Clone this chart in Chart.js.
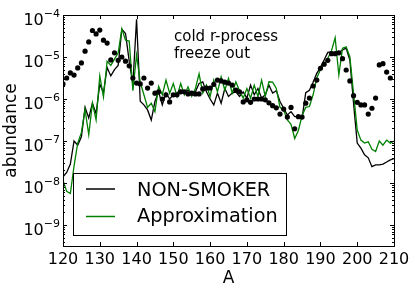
<!DOCTYPE html>
<html><head><meta charset="utf-8">
<script src="https://cdn.jsdelivr.net/npm/chart.js@4.4.0/dist/chart.umd.min.js"></script>
<style>html,body{margin:0;padding:0;background:#fff;}canvas{display:block;}</style>
</head><body>
<canvas id="c" width="415" height="296"></canvas>
<script>
// ---- data ----
const massNumbers = [120,121,122,123,124,125,126,127,128,129,130,131,132,133,134,135,136,137,138,139,
  140,141,142,143,144,145,146,147,148,149,150,151,152,153,154,155,156,157,158,159,
  160,161,162,163,164,165,166,167,168,169,170,171,172,173,174,175,176,177,178,179,
  180,181,182,183,184,185,186,187,188,189,190,191,192,193,194,195,196,197,198,199,
  200,201,202,203,204,205,206,207,208,209,210];

const nonSmoker = [1.41e-8,1.78e-8,2.82e-8,1.0e-7,7.94e-8,1.26e-7,6.31e-7,3.55e-7,7.94e-7,4.47e-7,
  2.24e-6,1.41e-6,5.62e-6,3.55e-6,5.01e-6,6.31e-6,4.57e-5,3.63e-5,7.94e-6,2.24e-6,
  7.94e-5,8.91e-7,7.24e-7,5.50e-7,3.16e-7,8.71e-7,1.48e-6,7.24e-7,1.38e-6,1.0e-6,
  1.26e-6,1.38e-6,1.62e-6,1.38e-6,1.62e-6,1.38e-6,1.48e-6,2.34e-6,2.57e-6,1.48e-6,
  1.0e-6,7.24e-7,1.38e-6,7.94e-7,1.78e-6,1.15e-6,1.38e-6,1.48e-6,1.15e-6,1.48e-6,
  1.05e-6,2.14e-6,1.26e-6,1.78e-6,1.05e-6,1.26e-6,2.14e-6,1.38e-6,1.58e-6,8.71e-7,
  6.03e-7,4.17e-7,5.01e-7,3.80e-7,3.80e-7,3.47e-7,1.41e-6,1.62e-6,2.51e-6,4.07e-6,
  5.62e-6,8.51e-6,1.29e-5,1.32e-5,1.26e-5,1.26e-5,1.48e-5,1.62e-5,8.51e-6,7.94e-7,
  8.91e-8,6.76e-8,4.68e-8,3.98e-8,2.45e-8,2.69e-8,2.69e-8,2.82e-8,3.16e-8,3.55e-8,3.80e-8];

const approximation = [1.17e-8,6.31e-9,5.62e-9,2.51e-8,8.91e-8,1.58e-7,5.62e-7,1.41e-7,7.94e-7,3.16e-7,
  3.55e-6,1.12e-6,7.94e-6,6.31e-6,8.91e-6,1.26e-5,4.68e-5,2.51e-5,2.40e-5,1.58e-6,
  1.12e-5,2.51e-6,1.26e-6,6.31e-7,7.94e-7,5.01e-7,2.0e-6,1.26e-6,2.82e-6,1.38e-6,
  2.34e-6,1.15e-6,2.34e-6,1.26e-6,1.95e-6,1.15e-6,1.78e-6,3.98e-6,1.38e-6,2.14e-6,
  1.15e-6,2.82e-6,1.48e-6,3.39e-6,1.62e-6,3.09e-6,1.38e-6,2.57e-6,1.58e-6,1.05e-6,
  1.78e-6,1.05e-6,2.14e-6,1.15e-6,2.82e-6,1.15e-6,2.57e-6,2.51e-6,1.78e-6,6.31e-7,
  5.50e-7,3.16e-7,2.51e-7,1.15e-7,1.78e-7,3.98e-7,6.31e-7,6.61e-7,1.26e-6,3.16e-6,
  5.01e-6,6.46e-6,9.33e-6,1.41e-5,2.88e-5,3.72e-6,1.62e-5,1.74e-5,1.0e-5,1.38e-6,
  1.82e-7,1.05e-7,8.91e-8,9.55e-8,6.31e-8,5.62e-8,1.0e-7,7.94e-8,1.05e-7,8.91e-8,1.0e-7];

// observed (solar r-process) abundances, A = 120 ... 209
const observed = [2.29e-6,3.16e-6,4.17e-6,3.72e-6,5.50e-6,7.24e-6,1.38e-5,2.29e-5,4.27e-5,3.55e-5,
  4.37e-5,2.51e-5,2.14e-5,8.51e-6,1.26e-5,8.32e-6,1.0e-5,7.94e-6,6.17e-6,3.16e-6,
  2.40e-6,2.29e-6,3.16e-6,1.82e-6,2.40e-6,1.38e-6,1.48e-6,1.0e-6,1.26e-6,8.51e-7,
  1.26e-6,1.26e-6,1.48e-6,1.48e-6,1.32e-6,1.38e-6,1.32e-6,1.32e-6,1.74e-6,1.82e-6,
  1.82e-6,2.24e-6,2.82e-6,2.69e-6,2.51e-6,2.40e-6,2.14e-6,1.62e-6,1.48e-6,8.51e-7,
  9.55e-7,8.32e-7,1.0e-6,1.0e-6,1.0e-6,9.55e-7,8.13e-7,6.92e-7,6.17e-7,4.37e-7,
  5.75e-7,3.72e-7,6.31e-7,1.95e-7,3.80e-7,3.72e-7,7.94e-7,1.05e-6,2.04e-6,2.82e-6,
  5.37e-6,6.76e-6,8.32e-6,1.20e-5,1.20e-5,1.26e-5,9.12e-6,4.90e-6,2.69e-6,1.20e-6,
  8.32e-7,7.24e-7,7.24e-7,4.37e-7,6.03e-7,1.05e-6,6.46e-6,6.92e-6,4.37e-6,3.16e-6];

const xTicks = [120,130,140,150,160,170,180,190,200,210];
const yDecades = [-9,-8,-7,-6,-5,-4];
const seriesLabels = ['NON-SMOKER','Approximation'];
const annotationLines = ['cold r-process','freeze out'];
const xTitle = 'A';
const yTitle = 'abundance';

const FONT = '"DejaVu Sans", sans-serif';

const mplPlugin = {
  id: 'mpl',
  afterDatasetsDraw(chart) {
    const {ctx, chartArea: a, scales: {x, y}} = chart;
    ctx.save();
    ctx.strokeStyle = '#000';
    ctx.fillStyle = '#000';
    ctx.lineWidth = 1;
    // ticks
    ctx.beginPath();
    for (const v of xTicks) {
      const px = Math.round(x.getPixelForValue(v)) + 0.5;
      ctx.moveTo(px, a.bottom); ctx.lineTo(px, a.bottom - 4);
      ctx.moveTo(px, a.top); ctx.lineTo(px, a.top + 4);
    }
    for (let e = -10; e <= -4; e++) {
      for (let k = 1; k <= 9; k++) {
        const v = k * Math.pow(10, e);
        if (v < y.min * 0.999 || v > y.max * 1.001) continue;
        const py = Math.round(y.getPixelForValue(v)) + 0.5;
        const len = k === 1 ? 4 : 2;
        ctx.moveTo(a.left, py); ctx.lineTo(a.left + len, py);
        ctx.moveTo(a.right, py); ctx.lineTo(a.right - len, py);
      }
    }
    ctx.stroke();
    // frame
    ctx.strokeRect(a.left + 0.5, a.top + 0.5, a.right - a.left, a.bottom - a.top);

    // x tick labels
    ctx.font = '16px ' + FONT;
    ctx.textAlign = 'center';
    ctx.textBaseline = 'alphabetic';
    for (const v of xTicks) {
      ctx.fillText(String(v), x.getPixelForValue(v), 263.5);
    }
    // y tick labels 10^e
    for (const e of yDecades) {
      const py = y.getPixelForValue(Math.pow(10, e));
      const exp = '\u2212' + String(-e);
      ctx.font = '11px ' + FONT;
      const ew = ctx.measureText(exp).width;
      ctx.textAlign = 'right';
      const right = 60;
      ctx.fillText(exp, right, py + 2);
      ctx.font = '16px ' + FONT;
      ctx.fillText('10', right - ew, py + 10);
    }
    // axis titles
    ctx.font = '17px ' + FONT;
    ctx.textAlign = 'center';
    ctx.fillText(xTitle, (a.left + a.right) / 2, 283);
    ctx.save();
    ctx.translate(16, (a.top + a.bottom) / 2);
    ctx.rotate(-Math.PI / 2);
    ctx.fillText(yTitle, 0, 0);
    ctx.restore();

    // annotation
    ctx.font = '15px ' + FONT;
    ctx.textAlign = 'left';
    ctx.fillText(annotationLines[0], 174, 40.5);
    ctx.fillText(annotationLines[1], 174, 57.5);

    // legend
    ctx.fillStyle = '#fff';
    ctx.fillRect(73.5, 173.5, 213, 62);
    ctx.strokeStyle = '#000';
    ctx.strokeRect(73.5, 173.5, 213, 62);
    const ds = chart.data.datasets;
    const rows = [[ds[1], 189, 196], [ds[2], 216.5, 222.3]];
    for (const [d, ly, ty] of rows) {
      ctx.strokeStyle = d.borderColor;
      ctx.lineWidth = 1.5;
      ctx.beginPath(); ctx.moveTo(86, ly); ctx.lineTo(115, ly); ctx.stroke();
      ctx.fillStyle = '#000';
      ctx.font = '19.3px ' + FONT;
      ctx.fillText(d.label, 137, ty);
    }
    ctx.restore();
  }
};

new Chart(document.getElementById('c'), {
  type: 'line',
  data: {
    datasets: [
      { label: 'observed', data: observed.map((v, i) => ({x: massNumbers[i], y: v})),
        showLine: false, pointRadius: 2.6, pointBackgroundColor: '#000', pointBorderWidth: 0,
        borderColor: '#000', order: 0 },
      { label: seriesLabels[0], data: nonSmoker.map((v, i) => ({x: massNumbers[i], y: v})),
        borderColor: '#000', borderWidth: 1.3, pointRadius: 0, tension: 0, fill: false, order: 2 },
      { label: seriesLabels[1], data: approximation.map((v, i) => ({x: massNumbers[i], y: v})),
        borderColor: '#008000', borderWidth: 1.3, pointRadius: 0, tension: 0, fill: false, order: 1 }
    ]
  },
  options: {
    responsive: false,
    animation: false,
    devicePixelRatio: 1,
    layout: { padding: { left: 0, top: 15, right: 21, bottom: 0 } },
    plugins: { legend: { display: false }, tooltip: { enabled: false } },
    scales: {
      x: { type: 'linear', min: 120, max: 210,
           ticks: { display: false }, grid: { display: false }, border: { display: false },
           afterFit: s => { s.height = 50; } },
      y: { type: 'logarithmic', min: 3.1623e-10, max: 1e-4,
           ticks: { display: false }, grid: { display: false }, border: { display: false },
           afterFit: s => { s.width = 63; } }
    }
  },
  plugins: [mplPlugin]
});
</script>
</body></html>
